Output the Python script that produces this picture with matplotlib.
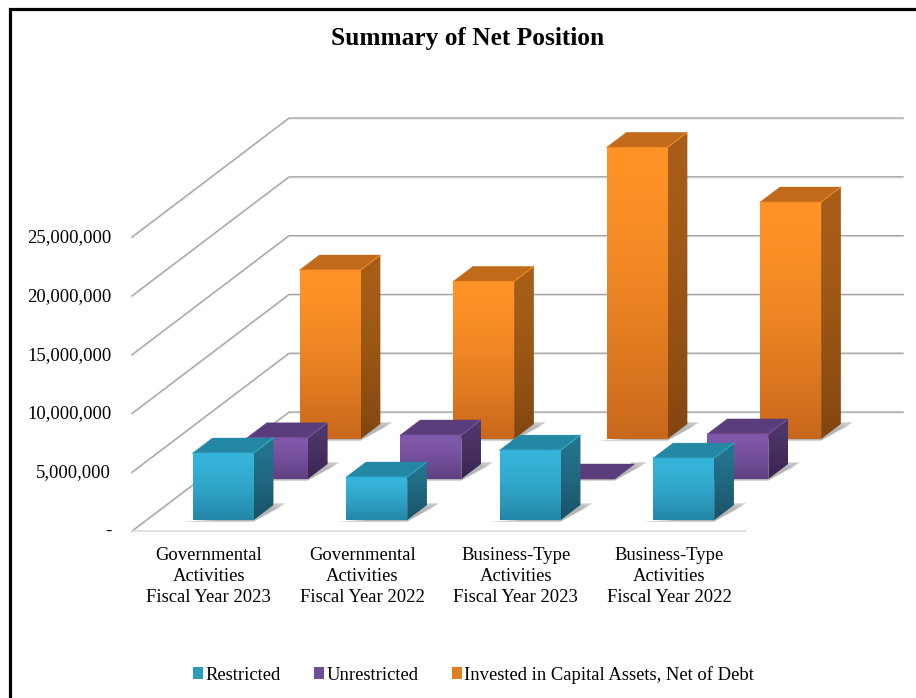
import numpy as np
import matplotlib
matplotlib.use("Agg")
import matplotlib.pyplot as plt
from matplotlib.colors import LinearSegmentedColormap
from matplotlib.lines import Line2D
from matplotlib.patches import Patch, Polygon
from matplotlib.transforms import IdentityTransform, ScaledTranslation

plt.rcParams["font.family"] = ["Liberation Serif", "DejaVu Serif"]

# =============================
# 0. Data
# =============================
categories = [
    "Governmental\nActivities\nFiscal Year 2023",
    "Governmental\nActivities\nFiscal Year 2022",
    "Business-Type\nActivities\nFiscal Year 2023",
    "Business-Type\nActivities\nFiscal Year 2022",
]
restricted = [5700000, 3660000, 5950000, 5270000]
unrestricted = [3500000, 3740000, 0, 3830000]
invested = [14370000, 13400000, 24800000, 20150000]
y_ticks = [0, 5000000, 10000000, 15000000, 20000000, 25000000]
y_labels = ["-", "5,000,000", "10,000,000", "15,000,000", "20,000,000", "25,000,000"]
legend_names = ["Restricted", "Unrestricted", "Invested in Capital Assets, Net of Debt"]

# =============================
# 1. Style (front top, front bottom, top face, side top, side bottom)
# =============================
W, H = 916, 698
DEPTH_X, DEPTH_Y = 157, 119
BAR_W = 0.397
BAR_DEPTH = 0.126
ROWS = [0.773, 0.437, 0.092]  # back to front

COL_CYAN = ("#36B5DB", "#2487A7", "#2488A5", "#24748E", "#1A5166")
COL_PURPLE = ("#8059AA", "#5F3F82", "#5C3D7C", "#4F366C", "#39244F")
COL_ORANGE = ("#FF9328", "#C9681C", "#C06A1A", "#A85E18", "#834610")

fig = plt.figure(figsize=(W / 100, H / 100), dpi=100, facecolor="white")
ax = fig.add_axes([132 / W, (H - 531) / H, 614 / W, 294 / H])
ax.set_xlim(0, 4)
ax.set_ylim(0, 25000000)
ax.patch.set_visible(False)
ID = IdentityTransform()


def px(x, val, depth=0.0):
    X, Y = ax.transData.transform((x, val))
    return X + DEPTH_X * depth, Y + DEPTH_Y * depth


def grad_face(pts, top, bottom, z):
    pts = np.array(pts)
    cmap = LinearSegmentedColormap.from_list("f", [top, bottom])
    im = ax.imshow(
        (np.linspace(0, 1, 64) ** 1.5).reshape(-1, 1), cmap=cmap, aspect="auto", vmin=0, vmax=1,
        extent=(pts[:, 0].min(), pts[:, 0].max(), pts[:, 1].min(), pts[:, 1].max()),
        origin="upper", transform=ID, zorder=z, interpolation="bilinear",
    )
    # the bars stick out of the axes box, so clip only to the face itself
    im.set_clip_path(Polygon(pts, closed=True, transform=ID))
    im.set_clip_box(fig.bbox)


def flat_face(pts, color, z, alpha=1.0, lw=0.0):
    ax.add_patch(Polygon(pts, closed=True, transform=ID, facecolor=color, alpha=alpha,
                         edgecolor=color, lw=lw, zorder=z, clip_on=False))


# =============================
# 2. Walls and floor
# =============================
for v in y_ticks:
    x0, y0 = px(0, v)
    x1, y1 = px(0, v, 1)
    x2, y2 = px(4, v, 1)
    ax.add_line(Line2D([x0, x1, x2], [y0 - 0.6, y1 - 0.6, y2 - 0.6], transform=ID, color="#E2E2E2",
                       lw=1.4, zorder=1, clip_on=False))
    ax.add_line(Line2D([x0, x1, x2], [y0, y1, y2], transform=ID, color="#A3A3A3", lw=0.9,
                       zorder=1.1, clip_on=False))


# =============================
# 3. Bars
# =============================
def draw_bar(i, val, depth, cols, z):
    cx = i + 0.5
    xa, xb = cx - BAR_W / 2, cx + BAR_W / 2
    d2 = depth + BAR_DEPTH
    x0, y0 = px(xa, 0, depth)
    x1, _ = px(xb, 0, depth)

    # shadow on the floor
    for grow, a in [(5, 0.07), (3, 0.10), (1, 0.15), (0, 0.20)]:
        shadow = [(x0 - 11 + grow, y0 - 1.5), (x1, y0 - 1.5),
                  (x1 + 32 - grow, y0 + 17 - grow), (x1 + 17, y0 + 17 - grow), (x1, y0 + 2)]
        flat_face(shadow, "#555555", z, alpha=a)

    xt0, yt = px(xa, val, depth)
    xt1, _ = px(xb, val, depth)
    bx0, byt = px(xa, val, d2)
    bx1, _ = px(xb, val, d2)
    rx, ry = px(xb, 0, d2)

    if val > 0:
        grad_face([(x1, y0), (rx, ry), (bx1, byt), (xt1, yt)], cols[3], cols[4], z + 0.1)
        grad_face([(x0, y0), (x1, y0), (xt1, yt), (xt0, yt)], cols[0], cols[1], z + 0.2)
        ax.add_line(Line2D([xt0, xt1, bx1], [yt, yt, byt], transform=ID, color=cols[0],
                           lw=0.8, alpha=0.7, zorder=z + 0.4, clip_on=False))
    flat_face([(xt0, yt), (xt1, yt), (bx1, byt), (bx0, byt)], cols[2], z + 0.3, lw=0.3)


for row, (vals, depth, cols) in enumerate(zip([invested, unrestricted, restricted], ROWS,
                                              [COL_ORANGE, COL_PURPLE, COL_CYAN])):
    for i, val in enumerate(vals):
        draw_bar(i, val, depth, cols, 2 + row + i * 0.05)

# =============================
# 4. Axes, title, legend, border
# =============================
ax.set_xlim(0, 4)
ax.set_ylim(0, 25000000)
ax.set_xticks(np.arange(4) + 0.5)
ax.set_xticklabels(categories, fontsize=13.4, linespacing=1.3)
ax.set_yticks(y_ticks)
ax.set_yticklabels(y_labels, fontsize=13.4)
ax.tick_params(axis="both", length=0)
ax.tick_params(axis="x", pad=11.5)
ax.tick_params(axis="y", pad=15)
for lab in ax.get_yticklabels():
    lab.set_transform(lab.get_transform() + ScaledTranslation(0, 1.5 / 100, fig.dpi_scale_trans))
for name in ["top", "right", "left"]:
    ax.spines[name].set_visible(False)
ax.spines["bottom"].set_color("#DDDDDD")
ax.spines["bottom"].set_linewidth(1.2)

fig.text(467.5 / W, 1 - 39 / H, "Summary of Net Position", fontsize=18.3, fontweight="bold",
         ha="center", va="center", color="black")

handles = [Patch(facecolor="#2A9CBF"), Patch(facecolor="#6F4D96"), Patch(facecolor="#E07F22")]
fig.legend(handles, legend_names, loc="center", bbox_to_anchor=(473.5 / W, 1 - 675 / H), ncol=3,
           frameon=False, fontsize=13.4, handlelength=0.55, handleheight=0.6, handletextpad=0.12,
           columnspacing=1.8)

fig.add_artist(Line2D([9.5 / W, 9.5 / W, 1], [0, 1 - 9 / H, 1 - 9 / H], transform=fig.transFigure,
                      color="black", lw=2.3, solid_joinstyle="miter"))

fig.savefig("out.png", dpi=100)
plt.close(fig)
